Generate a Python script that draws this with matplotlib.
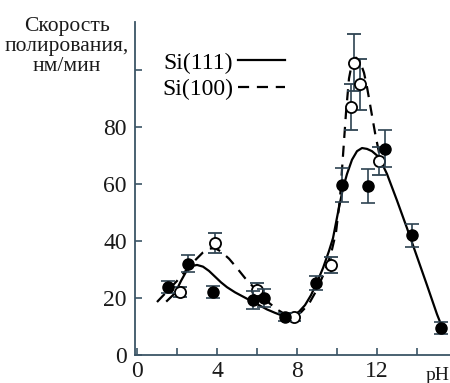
import matplotlib.pyplot as plt

# measured points, Si(111) - filled circles
si111_ph = [1.55, 2.55, 3.8, 5.8, 6.35, 7.4, 8.95, 10.25, 11.55, 12.4, 13.75, 15.2]
si111_rate = [23.9, 32.0, 22.0, 19.3, 20.0, 13.3, 25.3, 59.6, 59.3, 72.3, 42.0, 9.5]
si111_err = [2.0, 3.0, 2.1, 3.0, 3.0, 1.5, 2.5, 6.0, 6.0, 6.5, 4.0, 2.0]

# measured points, Si(100) - open circles
si100_ph = [2.15, 3.9, 6.0, 7.85, 9.7, 10.7, 10.85, 11.15, 12.1]
si100_rate = [22.0, 39.3, 22.8, 13.3, 31.6, 87.0, 102.5, 95.0, 68.0]
si100_err = [1.8, 3.5, 2.5, 1.5, 2.8, 8.0, 10.0, 9.0, 5.0]

# fitted curves
fit111_ph = [1.5, 1.9, 2.2, 2.5, 2.8, 3.0, 3.3, 3.6, 3.9, 4.2, 4.5, 4.9, 5.3, 5.7,
             6.1, 6.5, 6.9, 7.2, 7.5, 7.8, 8.1, 8.4, 8.7, 9.0, 9.3, 9.6, 9.8,
             10.05, 10.3, 10.5, 10.75, 11.0, 11.25, 11.5, 11.75, 12.0, 12.25,
             12.5, 13.0, 13.5, 14.0, 14.5, 15.0, 15.3]
fit111_rate = [19.0, 21.7, 26.0, 29.8, 31.3, 31.6, 31.0, 29.5, 27.5, 25.5, 23.8, 22.0,
               20.5, 19.0, 17.5, 16.0, 14.8, 14.0, 13.6, 13.9, 15.2, 17.5, 21.0, 25.5,
               30.5, 36.5, 41.0, 50.0, 58.5, 63.5, 68.5, 71.5, 72.6, 72.3, 71.5, 70.0,
               67.2, 63.5, 54.2, 44.5, 34.5, 24.5, 14.3, 9.0]

fit100_ph = [1.0, 2.0, 2.8, 3.3, 3.6, 3.9, 4.2, 4.6, 5.0, 5.4, 5.8, 6.2, 6.6, 7.0,
             7.4, 7.8, 8.2, 8.6, 9.0, 9.4, 9.7, 9.95, 10.15, 10.3, 10.45, 10.6,
             10.75, 10.95, 11.15, 11.35, 11.5, 11.7, 11.9, 12.1, 12.3]
fit100_rate = [18.6, 26.0, 32.5, 36.0, 37.3, 37.5, 36.3, 33.8, 30.5, 27.0, 24.0, 21.0,
               18.3, 16.0, 14.3, 13.8, 15.0, 18.0, 23.0, 29.5, 35.5, 43.0, 55.0, 70.0,
               85.0, 97.0, 102.5, 104.3, 103.0, 99.0, 94.0, 86.0, 78.0, 71.0, 67.0]

x_ticks = [0, 4, 8, 12]
x_minor = [2, 6, 10, 14]
y_ticks = [0, 20, 40, 60, 80, 100]
y_labels = ['0', '20', '40', '60', '80', '']

plt.rcParams['font.family'] = ['Liberation Serif', 'DejaVu Serif']
axis_col = '#3b5566'
err_col = '#2e4352'

fig = plt.figure(figsize=(4.5, 3.83), dpi=100)
ax = fig.add_axes([0.30, 0.073, 0.70, 0.8695])

ax.plot(fit111_ph, fit111_rate, color='black', lw=1.6, label='Si(111)', zorder=2)
ax.plot(fit100_ph, fit100_rate, color='black', lw=1.6, dashes=(5, 3.5), label='Si(100)', zorder=2)

ax.errorbar(si100_ph, si100_rate, yerr=si100_err, fmt='o', ms=8, mfc='white', mec='black',
            mew=1.3, ecolor=err_col, elinewidth=1.2, capsize=5, capthick=1.2, zorder=3)
ax.errorbar(si111_ph, si111_rate, yerr=si111_err, fmt='o', ms=8, mfc='black', mec='black',
            ecolor=err_col, elinewidth=1.2, capsize=5, capthick=1.2, zorder=4)

ax.set_xlim(-0.1, 15.65)
ax.set_ylim(0, 116.8)
ax.set_xticks(x_ticks)
ax.set_xticks(x_minor, minor=True)
ax.set_yticks(y_ticks)
ax.set_yticklabels(y_labels)

for side in ['top', 'right']:
    ax.spines[side].set_visible(False)
for side in ['left', 'bottom']:
    ax.spines[side].set_color(axis_col)
    ax.spines[side].set_linewidth(1.3)

ax.tick_params(which='both', direction='in', length=5, width=1.2, color=axis_col,
               labelsize=17, labelcolor='#1a1a1a')
ax.tick_params(axis='x', pad=4)
ax.tick_params(axis='y', pad=6)

ax.text(15.05, -0.035, 'pH', transform=ax.get_xaxis_transform(), ha='center', va='top',
        fontsize=14, color='#1a1a1a')

fig.text(0.149, 0.955, 'Скорость\nполирования,\nнм/мин', ha='center', va='top',
         fontsize=15.5, linespacing=1.05, color='#1a1a1a')

ax.legend(loc='upper left', bbox_to_anchor=(0.048, 0.945), frameon=False, markerfirst=False,
          fontsize=17, handlelength=2.0, handletextpad=0.2, borderpad=0, labelspacing=0.2)

fig.savefig('out.png', dpi=100)
